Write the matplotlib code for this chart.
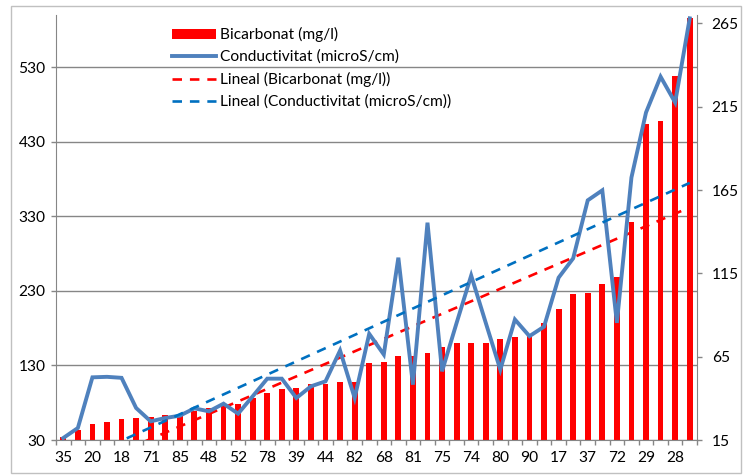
import numpy as np
import matplotlib.pyplot as plt
from matplotlib.patches import Rectangle

plt.rcParams['font.family'] = ['Lato', 'DejaVu Sans']
plt.rcParams['font.size'] = 11.2

# sample codes printed under every second bar
tick_labels = ["35", "20", "18", "71", "85", "48", "52", "78", "39", "44", "82",
               "68", "81", "75", "74", "80", "90", "17", "37", "72", "29", "28"]

# bicarbonate (mg/l), left axis
bicarbonat = [33.5, 43, 51.4, 54, 57.6, 59.5, 60.3, 63, 65.3, 68.9, 72.9,
              75, 78.3, 85.8, 93, 98.4, 99.7, 105, 105.5, 108.2, 108, 132.7,
              135, 142.6, 142.6, 146.1, 154.2, 159.5, 159.5, 159.5, 165.8, 168,
              172, 186.8, 205.6, 226, 227.4, 239.5, 248.5, 323, 453.6, 458,
              518.3, 595.7]

# conductivity (microS/cm), right axis
conductivitat = [16.2, 22.2, 52.6, 52.9, 52.3, 34.2, 26.2, 28.2, 29.6, 34, 32.2,
                 36.8, 30.8, 41.2, 51.8, 51.8, 40.2, 47.2, 50.2, 68.7, 40.2, 78.7,
                 66.3, 124.4, 48.2, 145.4, 56.2, 85.3, 113.7, 85.3, 57.2, 87.3,
                 77.3, 83, 112.4, 124, 158.8, 164.8, 85.3, 172.5, 211.5, 233,
                 217.5, 268]

grey = '#868686'
n = len(bicarbonat)
x = np.arange(n)

fig = plt.figure(figsize=(7.44, 4.75), dpi=100)
ax = fig.add_axes([56/744, 35/475, 641/744, 425/475])
ax2 = ax.twinx()

bars = ax.bar(x, bicarbonat, width=0.4, color='#FF0000', zorder=2,
              label='Bicarbonat (mg/l)')
fit_b = np.polyfit(x, bicarbonat, 1)
tr_b, = ax.plot(x, np.polyval(fit_b, x), color='#FF0000', lw=1.9,
                ls=(0, (3.6, 3.0)), zorder=3, label='Lineal (Bicarbonat (mg/l))')

ln, = ax2.plot(x, conductivitat, color='#4F81BD', lw=2.8, zorder=3,
               solid_joinstyle='miter', clip_on=False,
               label='Conductivitat (microS/cm)')
fit_c = np.polyfit(x, conductivitat, 1)
tr_c, = ax2.plot(x, np.polyval(fit_c, x), color='#0070C0', lw=1.9,
                 ls=(0, (3.6, 3.0)), zorder=4,
                 label='Lineal (Conductivitat (microS/cm))')

ax.set_xlim(-0.5, n - 0.5)
ax.set_ylim(30, 600)
ax2.set_ylim(15, 270)

ax.set_yticks(np.arange(30, 600, 100))
ax2.set_yticks(np.arange(15, 271, 50))
ax.set_xticks(x[::2])
ax.set_xticklabels(tick_labels)
ax.set_xticks(np.arange(-0.5, n, 1), minor=True)

ax.yaxis.grid(True, color=grey, lw=1)
ax.set_axisbelow(True)

ax.tick_params(axis='x', which='major', length=0, pad=8)
ax.tick_params(axis='x', which='minor', length=3.6, color=grey, width=1)
ax.tick_params(axis='y', length=3.6, color=grey, width=1, pad=4)
ax2.tick_params(axis='y', length=3.6, color=grey, width=1, pad=7)

for s in ['top', 'right']:
    ax.spines[s].set_visible(False)
for s in ['top', 'left', 'bottom']:
    ax2.spines[s].set_visible(False)
ax.spines['left'].set_color(grey)
ax.spines['bottom'].set_color(grey)
ax2.spines['right'].set_color(grey)

ax2.legend([bars, ln, tr_b, tr_c],
           [h.get_label() for h in [bars, ln, tr_b, tr_c]],
           loc='upper left', bbox_to_anchor=(172/744, 1 - 27/475),
           bbox_transform=fig.transFigure, frameon=False, borderpad=0,
           handlelength=2.8, handleheight=0.6, handletextpad=0.3,
           labelspacing=0.5, borderaxespad=0)

# chart area border
fig.patches.append(Rectangle((11/744, 2/475), 730/744, 467/475,
                             transform=fig.transFigure, fill=False,
                             edgecolor='#c0c0c0', lw=1))

fig.savefig('out.png', dpi=100)
